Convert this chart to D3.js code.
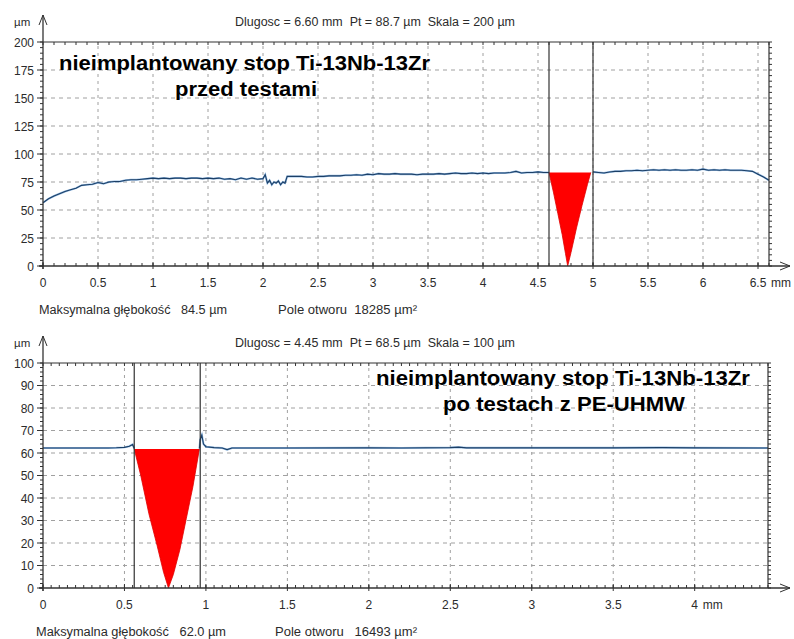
<!DOCTYPE html>
<html>
<head>
<meta charset="utf-8">
<script src="https://cdn.jsdelivr.net/npm/d3@7"></script>
<style>
  html, body { margin: 0; padding: 0; background: #fff; }
  svg { display: block; font-family: "Liberation Sans", Arial, sans-serif; }
</style>
</head>
<body>
<svg id="chart" width="794" height="639"></svg>
<script>
// ---- Panel 1: profile before tests (x in mm, height in µm)
const topProfileX = [0,0.05,0.1,0.15,0.2,0.25,0.3,0.35,0.4,0.45,0.5,0.55,0.6,0.65,0.7,0.75,0.8,0.85,0.9,0.95,
  1,1.05,1.1,1.15,1.2,1.25,1.3,1.35,1.4,1.45,1.5,1.55,1.6,1.65,1.7,1.75,1.8,1.85,1.9,1.95,
  2,2.02,2.04,2.06,2.08,2.1,2.12,2.14,2.16,2.18,2.2,2.22,2.25,2.3,2.35,2.4,2.45,2.5,2.55,2.6,2.65,2.7,2.75,2.8,2.85,2.9,2.95,
  3,3.05,3.1,3.15,3.2,3.25,3.3,3.35,3.4,3.45,3.5,3.55,3.6,3.65,3.7,3.75,3.8,3.85,3.9,3.95,
  4,4.05,4.1,4.15,4.2,4.25,4.3,4.35,4.4,4.45,4.5,4.55,4.6];
const topProfileY = [56.5,60,62.5,64.5,66.5,68,69.5,72,72.5,73,74.5,73.5,75,75.5,75.5,76.5,77,77,77.5,78,
  78.5,78,78.5,78,78.5,78.5,78,78.5,78.5,78,78.5,78,78.5,77.5,78,77,78.5,77.5,78.5,77.5,
  78,81.5,74,76.5,72.5,75,74,76,72.5,75,74,80,80,80,80,79.5,79.5,80,80,80.5,80.5,80.5,81,81,81.5,81,82,
  81.5,82.5,82,82,82.5,82,82,82,81.5,82,82,82,82.5,82,82.5,83,82.5,82.5,83,82.5,
  83,82.5,83,83,83,83.5,84.5,83,83.5,83.5,84,83.5,83.5];
const topProfileX2 = [5,5.05,5.1,5.15,5.2,5.25,5.3,5.35,5.4,5.45,5.5,5.55,5.6,5.65,5.7,5.75,5.8,5.85,5.9,5.95,
  6,6.05,6.1,6.15,6.2,6.25,6.3,6.35,6.4,6.45,6.5,6.55,6.6];
const topProfileY2 = [84,83.5,83,84,84.5,84.5,85,85,85.5,85,85.5,86,85.5,86,85.5,86,85.5,85.5,86,85.5,
  86.5,85.5,86,85.5,86,85.5,85.5,85.5,85,84.5,82,79.5,76.5];
// groove cross-section (filled)
const topGrooveX = [4.6,4.64,4.68,4.72,4.75,4.77,4.8,4.85,4.9,4.95,4.98];
const topGrooveY = [83.5,66,47,28,11,0,12,34,54,73,83.5];
const topMarkers = [4.6, 5.0];
const topXTicks = [0,0.5,1,1.5,2,2.5,3,3.5,4,4.5,5,5.5,6,6.5];
const topYTicks = [0,25,50,75,100,125,150,175,200];

// ---- Panel 2: profile after tests with PE-UHMW
const botProfileX = [0,0.2,0.4,0.45,0.5,0.53,0.55,0.56];
const botProfileY = [62.2,62.2,62.2,62.3,62.5,63,63.8,62];
const botProfileX2 = [0.96,0.965,0.975,0.985,1,1.05,1.1,1.13,1.16,1.5,2,2.2,2.5,2.55,2.6,3,3.5,3.8,4,4.45];
const botProfileY2 = [62,66,68,64,62.8,62.4,62.2,61.5,62.2,62.2,62.3,62.2,62.4,62.6,62.3,62.3,62.3,62.4,62.3,62.2];
const botGrooveX = [0.56,0.6,0.65,0.7,0.74,0.77,0.8,0.84,0.88,0.92,0.96];
const botGrooveY = [61.8,50,33,19,7,0,6,17,31,45,61.8];
const botMarkers = [0.56, 0.965];
const botXTicks = [0,0.5,1,1.5,2,2.5,3,3.5,4];
const botYTicks = [0,10,20,30,40,50,60,70,80,90,100];

const svg = d3.select("#chart");
const TXT = "#2b2b2b";

// text stretched to a fixed width (the instrument printout uses a wide face)
function wideText(g, x, y, size, width, str, bold) {
  return g.append("text").attr("x", x).attr("y", y)
    .attr("font-size", size).attr("font-weight", bold ? "bold" : "normal")
    .attr("fill", bold ? "#000" : TXT).attr("xml:space", "preserve")
    .attr("textLength", width).attr("lengthAdjust", "spacingAndGlyphs").text(str);
}

function panel(cfg) {
  const g = svg.append("g");
  const x = d3.scaleLinear().domain(cfg.xDomain).range([43, cfg.xRight]);
  const y = d3.scaleLinear().domain(cfg.yDomain).range([cfg.yBottom, cfg.yTop]);
  const x0 = x(0), x1 = x(cfg.xDomain[1]), y0 = y(0), y1 = y(cfg.yDomain[1]);

  // dashed grid
  g.append("g").selectAll("line").data(cfg.xTicks.filter(d => d > 0)).join("line")
    .attr("x1", d => x(d)).attr("x2", d => x(d)).attr("y1", y0).attr("y2", y1)
    .attr("stroke", "#a0a0a0").attr("stroke-width", 1).attr("stroke-dasharray", "3,4");
  g.append("g").selectAll("line").data(cfg.yTicks.filter(d => d > 0 && d < cfg.yDomain[1])).join("line")
    .attr("x1", x0).attr("x2", x1).attr("y1", d => y(d)).attr("y2", d => y(d))
    .attr("stroke", "#a0a0a0").attr("stroke-width", 1).attr("stroke-dasharray", "4,4");

  // groove fill
  g.append("path").datum(d3.zip(cfg.grooveX, cfg.grooveY))
    .attr("d", d3.line().x(d => x(d[0])).y(d => y(d[1])))
    .attr("fill", "#ff0000").attr("stroke", "#e00000").attr("stroke-width", 0.8);

  // profile line
  const line = d3.line().x(d => x(d[0])).y(d => y(d[1]));
  [[cfg.px1, cfg.py1], [cfg.px2, cfg.py2]].forEach(([px, py]) => {
    const pts = d3.zip(px, py);
    g.append("path").datum(pts).attr("d", line).attr("fill", "none")
      .attr("stroke", "#3f86cf").attr("stroke-width", 2).attr("stroke-opacity", 0.55);
    g.append("path").datum(pts).attr("d", line).attr("fill", "none")
      .attr("stroke", "#1c3f66").attr("stroke-width", 1.1);
  });

  // marker lines
  g.append("g").selectAll("line").data(cfg.markers).join("line")
    .attr("x1", d => x(d)).attr("x2", d => x(d)).attr("y1", y0).attr("y2", y1)
    .attr("stroke", "#333").attr("stroke-width", 1.2);

  // frame: top and right
  g.append("line").attr("x1", x0).attr("x2", x1).attr("y1", y1).attr("y2", y1).attr("stroke", "#333").attr("stroke-width", 1.2);
  g.append("line").attr("x1", x1).attr("x2", x1).attr("y1", y1).attr("y2", y0).attr("stroke", "#333").attr("stroke-width", 1.2);

  // minor ticks along x (bottom axis pointing up, top frame pointing down)
  const xm = d3.range(0, cfg.xDomain[1] + 1e-9, cfg.xMinor);
  g.append("g").selectAll("line").data(xm).join("line")
    .attr("x1", d => x(d)).attr("x2", d => x(d)).attr("y1", y0).attr("y2", y0 - 3)
    .attr("stroke", "#333");
  g.append("g").selectAll("line").data(xm).join("line")
    .attr("x1", d => x(d)).attr("x2", d => x(d)).attr("y1", y1).attr("y2", y1 + 3)
    .attr("stroke", "#333");
  // major x ticks
  g.append("g").selectAll("line").data(cfg.xTicks).join("line")
    .attr("x1", d => x(d)).attr("x2", d => x(d)).attr("y1", y0 + 3).attr("y2", y0 - 4)
    .attr("stroke", "#333");
  // minor/major ticks on y (left outward, right frame)
  const ym = d3.range(0, cfg.yDomain[1] + 1e-9, cfg.yMinor);
  g.append("g").selectAll("line").data(ym).join("line")
    .attr("x1", x0 - 3).attr("x2", x0).attr("y1", d => y(d)).attr("y2", d => y(d)).attr("stroke", "#333");
  g.append("g").selectAll("line").data(ym).join("line")
    .attr("x1", x1).attr("x2", x1 + 3).attr("y1", d => y(d)).attr("y2", d => y(d)).attr("stroke", "#333");
  g.append("g").selectAll("line").data(cfg.yTicks).join("line")
    .attr("x1", x0 - 6).attr("x2", x0).attr("y1", d => y(d)).attr("y2", d => y(d)).attr("stroke", "#333");

  // axes with arrows
  g.append("line").attr("x1", x0).attr("x2", x0).attr("y1", y0 + 3).attr("y2", cfg.yTop - 27)
    .attr("stroke", "#333").attr("stroke-width", 1.3);
  g.append("path").attr("d", `M${x0 - 4},${cfg.yTop - 17}L${x0},${cfg.yTop - 27}L${x0 + 4},${cfg.yTop - 17}`)
    .attr("fill", "none").attr("stroke", "#333").attr("stroke-width", 1);
  g.append("line").attr("x1", x0 - 4).attr("x2", 790).attr("y1", y0).attr("y2", y0)
    .attr("stroke", "#333").attr("stroke-width", 1.3);
  g.append("path").attr("d", `M780,${y0 - 4}L790,${y0}L780,${y0 + 4}`)
    .attr("fill", "none").attr("stroke", "#333").attr("stroke-width", 1);

  // tick labels
  g.append("g").selectAll("text").data(cfg.yTicks).join("text")
    .attr("x", 34).attr("y", d => y(d) + 4.5).attr("text-anchor", "end")
    .attr("font-size", 12).attr("fill", TXT).text(d => d);
  g.append("g").selectAll("text").data(cfg.xTicks).join("text")
    .attr("x", d => x(d)).attr("y", y0 + 21).attr("text-anchor", "middle")
    .attr("font-size", 12).attr("fill", TXT).text(d => d);
  const last = cfg.xTicks[cfg.xTicks.length - 1];
  g.append("text").attr("x", x(last) + (String(last).length > 1 ? 13 : 8)).attr("y", y0 + 21)
    .attr("font-size", 12).attr("fill", TXT).text("mm");
  g.append("text").attr("x", 14).attr("y", cfg.yTop - 16)
    .attr("font-size", 11.5).attr("fill", TXT).text("µm");

  // header and footer
  wideText(g, 235, cfg.yTop - 16, 12, 280, cfg.header, false);
  wideText(g, cfg.depthX, y0 + 48, 12, cfg.depthW, cfg.depth, false);
  wideText(g, cfg.areaX, y0 + 48, 12, cfg.areaW, cfg.area, false);

  // caption
  cfg.caption.forEach(c => wideText(g, c.x, c.y, 19.5, c.w, c.t, true));
}

panel({
  xDomain: [0, 6.6], xRight: 769, yDomain: [0, 200], yBottom: 266, yTop: 42,
  xTicks: topXTicks, yTicks: topYTicks, xMinor: 0.1, yMinor: 5,
  px1: topProfileX, py1: topProfileY, px2: topProfileX2, py2: topProfileY2,
  grooveX: topGrooveX, grooveY: topGrooveY, grooveTop: 83.5, markers: topMarkers,
  header: "Dlugosc = 6.60 mm  Pt = 88.7 µm  Skala = 200 µm",
  depth: "Maksymalna głębokość   84.5 µm", depthX: 39, depthW: 188,
  area: "Pole otworu  18285 µm²", areaX: 278, areaW: 139,
  caption: [{x: 59, y: 70, w: 371, t: "nieimplantowany stop Ti-13Nb-13Zr"},
            {x: 175, y: 96, w: 142, t: "przed testami"}]
});

panel({
  xDomain: [0, 4.45], xRight: 768, yDomain: [0, 100], yBottom: 588, yTop: 363,
  xTicks: botXTicks, yTicks: botYTicks, xMinor: 0.05, yMinor: 2,
  px1: botProfileX, py1: botProfileY, px2: botProfileX2, py2: botProfileY2,
  grooveX: botGrooveX, grooveY: botGrooveY, grooveTop: 61.8, markers: botMarkers,
  header: "Dlugosc = 4.45 mm  Pt = 68.5 µm  Skala = 100 µm",
  depth: "Maksymalna głębokość   62.0 µm", depthX: 36, depthW: 190,
  area: "Pole otworu   16493 µm²", areaX: 275, areaW: 142,
  caption: [{x: 376, y: 385, w: 374, t: "nieimplantowany stop Ti-13Nb-13Zr"},
            {x: 443, y: 411, w: 242, t: "po testach z PE-UHMW"}]
});
</script>
</body>
</html>
